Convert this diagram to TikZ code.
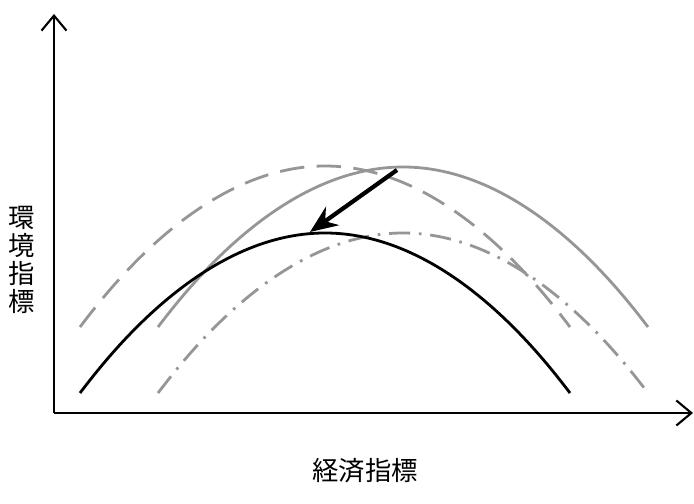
\documentclass[tikz,border=0pt]{standalone}
\usepackage{fontspec}
\newfontfamily\jpfont{Noto Sans CJK JP}
\usetikzlibrary{arrows.meta}
\definecolor{curvegray}{RGB}{150,150,150}
\begin{document}
\begin{tikzpicture}[x=0.02cm,y=0.02cm,
  axis/.style={line width=1.2pt,-{Straight Barb[length=3mm,width=5mm,line width=1.2pt]}},
  curve/.style={line width=1.6pt},
  graycurve/.style={curve,curvegray},
  dashcurve/.style={graycurve,dash pattern=on 14pt off 7pt},
  dotcurve/.style={graycurve,dash pattern=on 12pt off 5pt on 1.5pt off 5pt},
  shiftarrow/.style={line width=2.4pt,-{Stealth[length=5.5mm,width=4.5mm]}},
  label/.style={font=\jpfont\fontsize{15}{16}\selectfont,align=center}]
\useasboundingbox (0,0) rectangle (694,504);
\coordinate (origin) at (54,91);
\coordinate (ytip) at (54,490);
\coordinate (xtip) at (693,91);
\draw[axis] (origin) -- (ytip);
\draw[axis] (origin) -- (xtip);
% curves
\draw[dashcurve] (80,177) parabola bend (325,338) (570,177);
\draw[graycurve] (158,177) parabola bend (403,337) (648,177);
\draw[dotcurve] (158,111) parabola bend (403,271) (648,111);
\draw[curve] (80,111) parabola bend (325,271) (570,111);
% shift arrow
\coordinate (from) at (397,334);
\coordinate (to) at (310,272);
\draw[shiftarrow] (from) -- (to);
\node[label] (ylabel) at (22,244) {環\\境\\指\\標};
\node[label] (xlabel) at (365,33) {経済指標};
\end{tikzpicture}
\end{document}
